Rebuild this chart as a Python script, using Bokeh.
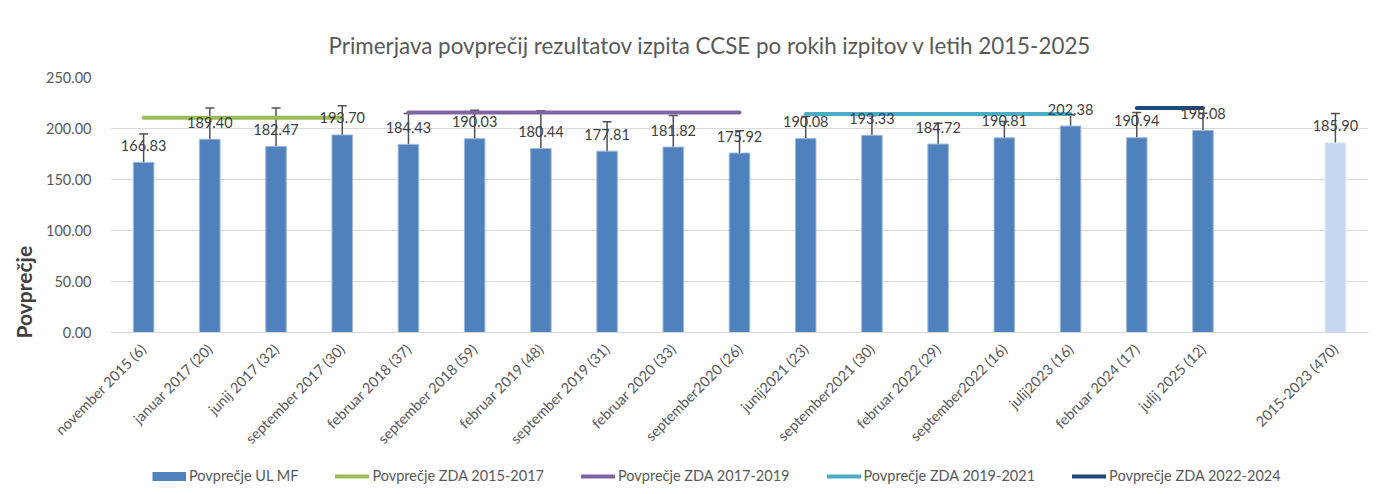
from math import pi
from bokeh.plotting import figure
from bokeh.layouts import column
from bokeh.models import (FactorRange, Range1d, ColumnDataSource, Whisker, TeeHead,
                          Legend, LegendItem, Title, NumeralTickFormatter, FixedTicker)
from bokeh.core.properties import value
from bokeh.embed import file_html
from bokeh.resources import INLINE

# ---------------- data ----------------
categories = ["november 2015 (6)", "januar 2017 (20)", "junij 2017 (32)", "september 2017 (30)",
              "februar 2018 (37)", "september 2018 (59)", "februar 2019 (48)", "september 2019 (31)",
              "februar 2020 (33)", "september2020 (26)", "junij2021 (23)", "september2021 (30)",
              "februar 2022 (29)", "september2022 (16)", "julij2023 (16)", "februar 2024 (17)",
              "julij 2025 (12)"]
means = [166.83, 189.40, 182.47, 193.70, 184.43, 190.03, 180.44, 177.81, 181.82, 175.92,
         190.08, 193.33, 184.72, 190.81, 202.38, 190.94, 198.08]
err_upper = [194.6, 220.2, 220.2, 222.2, 214.8, 217.9, 217.3, 206.5, 212.7, 197.9,
             211.7, 212.5, 205.2, 206.8, 213.3, 215.6, 215.0]
err_lower = [138.5, 158.5, 144.1, 165.4, 154.0, 162.4, 143.4, 149.0, 151.0, 154.0,
             168.4, 174.6, 164.1, 174.0, 191.4, 166.4, 175.6]

gap_category = " "
total_category = "2015-2023 (470)"
total_mean = 185.90
total_upper = 214.7
total_lower = 157.5

zda_names = ["Povprečje ZDA 2015-2017", "Povprečje ZDA 2017-2019",
             "Povprečje ZDA 2019-2021", "Povprečje ZDA 2022-2024"]
zda_values = [210.6, 215.6, 214.3, 220.2]
zda_start = ["november 2015 (6)", "februar 2018 (37)", "junij2021 (23)", "februar 2024 (17)"]
zda_end = ["september 2017 (30)", "september2020 (26)", "julij2023 (16)", "julij 2025 (12)"]
zda_colors = ["#9BBB59", "#8064A2", "#4BACC6", "#1F497D"]

title_text = "Primerjava povprečij rezultatov izpita CCSE po rokih izpitov v letih 2015-2025"
ylabel_text = "Povprečje"
bar_name = "Povprečje UL MF"
bar_color = "#4F81BD"

# ---------------- main figure ----------------
FONT = "Lato"
factors = categories + [gap_category, total_category]

p = figure(x_range=FactorRange(*factors), y_range=Range1d(0, 250),
           width=1389, height=460, output_backend="svg", toolbar_location=None,
           min_border_left=110, min_border_right=21, min_border_top=77, min_border_bottom=128)
p.outline_line_color = None
p.background_fill_color = "white"
p.border_fill_color = "white"

p.title.text = title_text
p.title.align = "left"
p.title.offset = 218
p.title.standoff = 38
p.title.text_font = FONT
p.title.text_font_size = "22.4px"
p.title.text_font_style = "normal"
p.title.text_color = "#595959"

src = ColumnDataSource(dict(x=categories, top=means, upper=err_upper, lower=err_lower,
                            lab=[f"{m:.2f}" for m in means]))
tsrc = ColumnDataSource(dict(x=[total_category], top=[total_mean], upper=[total_upper],
                             lower=[total_lower], lab=[f"{total_mean:.2f}"]))
p.vbar(x="x", top="top", width=0.31, source=src, fill_color=bar_color,
       line_color="#9DB8DC", line_width=1)
p.vbar(x="x", top="top", width=0.31, source=tsrc, fill_color="#C6D9F1",
       line_color="#DCE6F4", line_width=1)

for name, v, s, e, c in zip(zda_names, zda_values, zda_start, zda_end, zda_colors):
    p.line(x=[s, e], y=[v, v], line_width=4, line_color=c, line_cap="round")

for s in (src, tsrc):
    w = Whisker(base="x", upper="upper", lower="lower", source=s,
                line_color="#505050", line_width=1.5,
                upper_head=TeeHead(size=9, line_color="#505050", line_width=1.5),
                lower_head=TeeHead(size=9, line_color="#505050", line_width=1.5))
    p.add_layout(w)

for s in (src, tsrc):
    t = p.text(x="x", y="top", text="lab", source=s, y_offset=-17,
               text_align="center", text_baseline="middle",
               text_font=value(FONT), text_font_size="14.5px", text_color="#404040")
    t.level = "overlay"

p.xgrid.visible = False
p.ygrid.grid_line_color = "#D9D9D9"
p.ygrid.grid_line_width = 1
p.yaxis.ticker = FixedTicker(ticks=[0, 50, 100, 150, 200, 250])
p.yaxis.formatter = NumeralTickFormatter(format="0.00")
p.yaxis.axis_line_color = None
p.yaxis.major_tick_line_color = None
p.yaxis.minor_tick_line_color = None
p.yaxis.major_label_standoff = 13
p.yaxis.major_label_text_font = FONT
p.yaxis.major_label_text_font_size = "14.5px"
p.yaxis.major_label_text_color = "#595959"

# y-axis title placed low on the left side, as in the reference
p.add_layout(Title(text=ylabel_text, align="left", offset=-6, standoff=16,
                   text_font=FONT, text_font_size="21px", text_font_style="bold",
                   text_color="#404040"), "left")

p.xaxis.axis_line_color = "#D9D9D9"
p.xaxis.major_tick_line_color = None
p.xaxis.minor_tick_line_color = None
p.xaxis.major_label_orientation = pi / 4
p.xaxis.major_label_standoff = 8
p.xaxis.major_label_text_font = FONT
p.xaxis.major_label_text_font_size = "14.5px"
p.xaxis.major_label_text_color = "#595959"

# ---------------- legend strip ----------------
lg = figure(width=1389, height=34, output_backend="svg", toolbar_location=None,
            x_range=Range1d(0, 1), y_range=Range1d(0, 1),
            x_axis_location=None, y_axis_location=None, min_border=0)
lg.grid.visible = False
lg.outline_line_color = None
lg.border_fill_color = "white"
lg.background_fill_color = "white"

items = []
sw = lg.line(x=[0.5], y=[float("nan")], line_width=9, line_color=bar_color)
items.append(LegendItem(label=bar_name, renderers=[sw]))
for name, c in zip(zda_names, zda_colors):
    r = lg.line(x=[0.5], y=[float("nan")], line_width=4, line_color=c, line_cap="round")
    items.append(LegendItem(label=name, renderers=[r]))

legend = Legend(items=items, location=(42, 10), orientation="horizontal",
                padding=0, margin=0, spacing=37, glyph_width=34, glyph_height=16,
                label_height=16, label_standoff=3, border_line_color=None,
                background_fill_alpha=0, label_text_font=FONT,
                label_text_font_size="14.5px", label_text_color="#595959")
lg.add_layout(legend)

layout = column(p, lg, spacing=0)
open("out.html", "w").write(file_html(layout, INLINE))
